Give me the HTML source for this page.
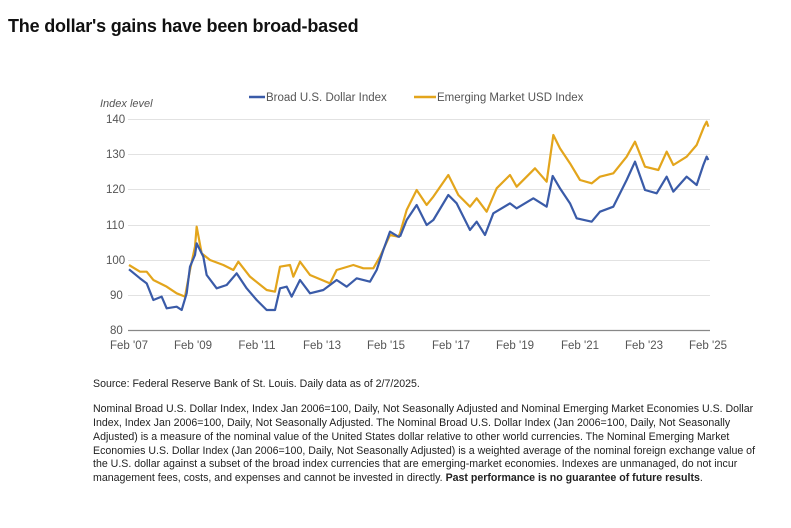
<!DOCTYPE html>
<html><head><meta charset="utf-8"><style>
body{margin:0;background:#fff;width:791px;height:528px;overflow:hidden;font-family:"Liberation Sans",sans-serif;}
.t{position:absolute;left:8px;top:16px;font-size:18px;font-weight:bold;color:#111;letter-spacing:-0.2px}
.f{position:absolute;left:93px;font-size:10.6px;color:#222;white-space:nowrap}
</style></head><body>
<div class="t">The dollar's gains have been broad-based</div>
<svg width="791" height="528" style="position:absolute;left:0;top:0" xmlns="http://www.w3.org/2000/svg">
<g font-family="Liberation Sans, sans-serif" font-size="11.5" fill="#555">
<g stroke="#e2e2e2" stroke-width="1">
<line x1="128" x2="710" y1="119.5" y2="119.5"/><line x1="128" x2="710" y1="154.5" y2="154.5"/>
<line x1="128" x2="710" y1="189.5" y2="189.5"/><line x1="128" x2="710" y1="225.5" y2="225.5"/>
<line x1="128" x2="710" y1="260.5" y2="260.5"/><line x1="128" x2="710" y1="295.5" y2="295.5"/>
</g>
<line x1="128" x2="710" y1="330.5" y2="330.5" stroke="#888" stroke-width="1.2"/>
<text x="100" y="107" font-style="italic" font-size="11">Index level</text>
<g text-anchor="start">
<text x="106" y="123">140</text><text x="106" y="158">130</text><text x="106" y="193">120</text>
<text x="106" y="229">110</text><text x="106" y="264">100</text><text x="110" y="299">90</text><text x="110" y="334">80</text>
</g>
<g text-anchor="middle">
<text x="129" y="349">Feb '07</text><text x="193" y="349">Feb '09</text><text x="257" y="349">Feb '11</text>
<text x="322" y="349">Feb '13</text><text x="386" y="349">Feb '15</text><text x="451" y="349">Feb '17</text>
<text x="515" y="349">Feb '19</text><text x="580" y="349">Feb '21</text><text x="644" y="349">Feb '23</text><text x="708" y="349">Feb '25</text>
</g>
<line x1="249" x2="265" y1="97" y2="97" stroke="#3a5ba8" stroke-width="2.5"/>
<text x="266" y="101">Broad U.S. Dollar Index</text>
<line x1="414" x2="436" y1="97" y2="97" stroke="#e3a51c" stroke-width="2.5"/>
<text x="437" y="101">Emerging Market USD Index</text>
</g>
<g fill="none" stroke-linejoin="round" stroke-width="2.2">
<g transform="translate(90,80) scale(0.33333)">
<polyline vector-effect="non-scaling-stroke" stroke="#e3a51c" points="117,555 150,575 170,575 190,600 230,620 260,640 285,650 300,570 315,500 320,440 335,520 360,540 400,555 430,570 445,545 480,590 530,630 555,635 570,560 600,555 610,590 630,545 660,585 720,610 740,570 790,555 820,565 850,565 870,530 900,465 925,470 930,460"/>
<polyline vector-effect="non-scaling-stroke" stroke="#3a5ba8" points="117,568 150,595 170,610 190,660 215,650 230,685 260,680 275,690 290,640 300,560 315,525 320,490 340,530 350,585 380,625 410,615 440,580 470,625 500,660 530,690 555,690 570,625 590,620 605,650 630,600 660,640 700,630 740,600 770,620 800,595 840,605 860,570 880,510 900,455 925,470 930,470"/>
</g>
<g transform="translate(400,80) scale(0.33333)">
<polyline vector-effect="non-scaling-stroke" stroke="#e3a51c" points="0,460 20,390 50,330 80,375 100,350 145,285 175,345 210,380 230,355 260,395 290,325 330,285 350,320 405,265 440,305 460,165 480,205 510,250 540,300 575,310 600,290 640,280 680,230 705,185 735,260 775,270 800,215 820,255 860,230 890,195 912,140 920,125 925,140"/>
<polyline vector-effect="non-scaling-stroke" stroke="#3a5ba8" points="0,470 20,420 50,375 80,435 100,420 145,345 170,370 210,450 230,425 255,465 280,400 330,370 350,385 400,355 440,380 458,288 480,325 510,370 530,415 575,425 600,395 640,380 680,300 705,245 735,330 770,340 800,290 820,335 860,290 890,315 910,255 920,230 925,240"/>
</g>
</g>
</svg>
<div class="f" style="top:378px">Source: Federal Reserve Bank of St. Louis. Daily data as of 2/7/2025.</div>
<div class="f" style="top:403px">Nominal Broad U.S. Dollar Index, Index Jan 2006=100, Daily, Not Seasonally Adjusted and Nominal Emerging Market Economies U.S. Dollar</div>
<div class="f" style="top:417px">Index, Index Jan 2006=100, Daily, Not Seasonally Adjusted. The Nominal Broad U.S. Dollar Index (Jan 2006=100, Daily, Not Seasonally</div>
<div class="f" style="top:431px">Adjusted) is a measure of the nominal value of the United States dollar relative to other world currencies. The Nominal Emerging Market</div>
<div class="f" style="top:445px">Economies U.S. Dollar Index (Jan 2006=100, Daily, Not Seasonally Adjusted) is a weighted average of the nominal foreign exchange value of</div>
<div class="f" style="top:458px">the U.S. dollar against a subset of the broad index currencies that are emerging-market economies. Indexes are unmanaged, do not incur</div>
<div class="f" style="top:472px">management fees, costs, and expenses and cannot be invested in directly. <b>Past performance is no guarantee of future results</b>.</div>
</body></html>
